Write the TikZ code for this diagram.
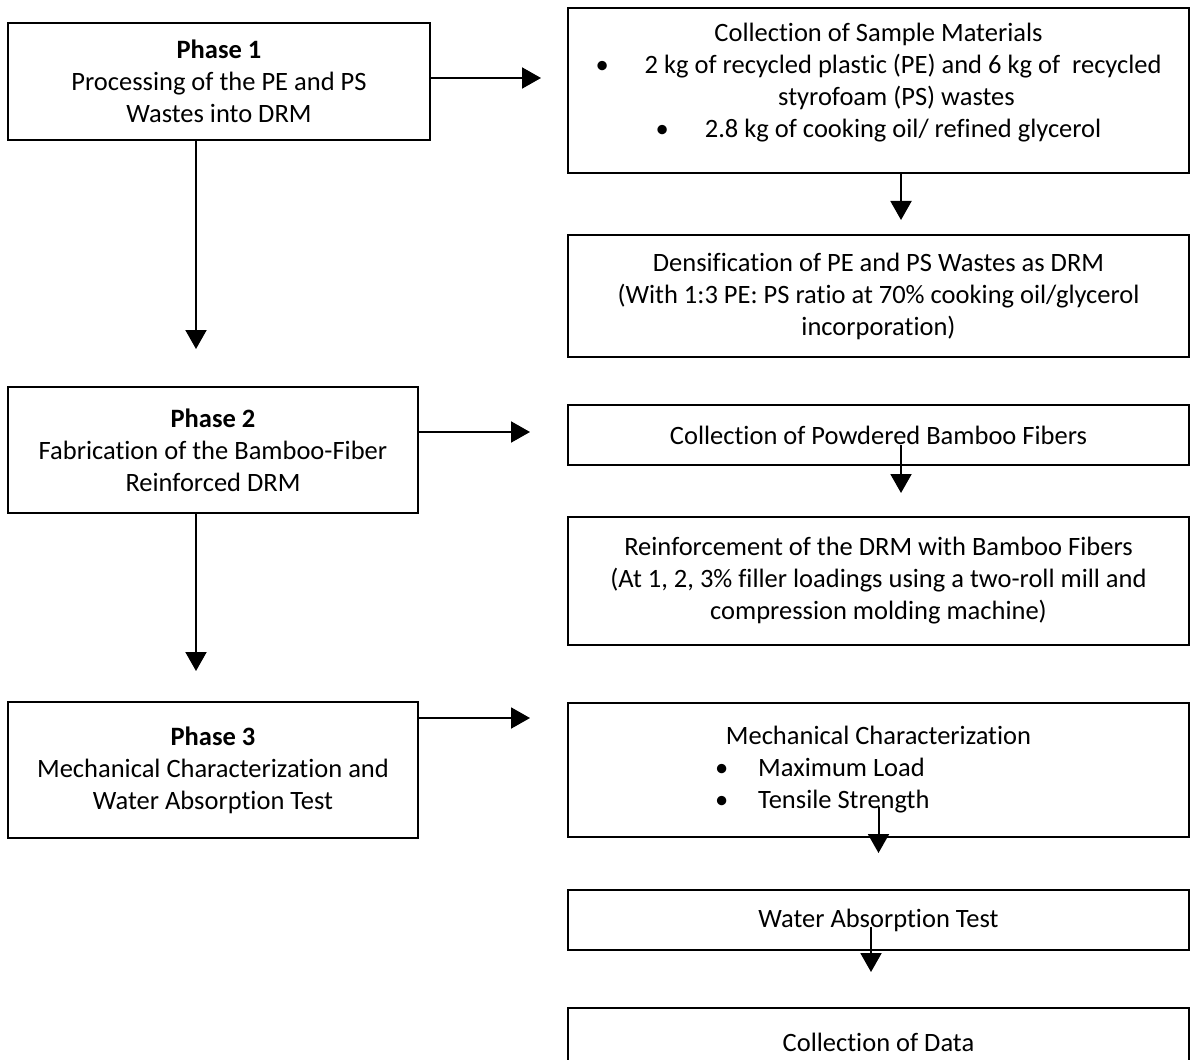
\documentclass[tikz,border=0pt]{standalone}
\usepackage{fontspec}
\setmainfont{Carlito}[Ligatures=NoCommon]
\usepackage{tikz}
\usetikzlibrary{arrows.meta,positioning}

\begin{document}
\begin{tikzpicture}[
  x=0.5pt, y=-0.5pt,
  font=\fontsize{13.25pt}{16pt}\selectfont,
  phase/.style={draw, line width=1pt, align=center, inner sep=0pt, minimum width=205pt},
  task/.style={draw, line width=1pt, align=center, inner sep=0pt, minimum width=310.5pt},
  arrow/.style={-{Triangle[length=9.5pt, width=10.5pt]}, line width=1pt}
]
\useasboundingbox (0,0) rectangle (1192,1059);
\clip (0,0) rectangle (1192,1059);

% left column
\node[phase, minimum width=211pt, minimum height=58.5pt] (ph1) at (219, 81.5) {\textbf{Phase 1}\\Processing of the PE and PS\\Wastes into DRM};
\node[phase, minimum height=63pt] (ph2) at (213, 450) {\textbf{Phase 2}\\Fabrication of the Bamboo-Fiber\\Reinforced DRM};
\node[phase, minimum height=68pt] (ph3) at (213, 770) {\textbf{Phase 3}\\Mechanical Characterization and\\Water Absorption Test};

% right column
\node[task, minimum height=82.5pt] (coll) at (878.5, 90.5) {Collection of Sample Materials\\\textbullet\hspace{18pt}2 kg of recycled plastic (PE) and 6 kg of\ \ recycled\\\hspace*{18pt}styrofoam (PS) wastes\\\textbullet\hspace{18pt}2.8 kg of cooking oil/ refined glycerol\\[-6pt]\mbox{}};
\node[task, minimum height=61pt] (dens) at (878.5, 296) {Densification of PE and PS Wastes as DRM\\(With 1:3 PE: PS ratio at 70\% cooking oil/glycerol\\incorporation)};
\node[task, minimum height=30pt] (bamboo) at (878.5, 435) {Collection of Powdered Bamboo Fibers};
\node[task, minimum height=64pt] (reinf) at (878.5, 581) {Reinforcement of the DRM with Bamboo Fibers\\(At 1, 2, 3\% filler loadings using a two-roll mill and\\compression molding machine)};
\node[task, minimum height=67pt] (mech) at (878.5, 770) {Mechanical Characterization\\\makebox[163.5pt][l]{\textbullet\hspace{15pt}Maximum Load}\\\makebox[163.5pt][l]{\textbullet\hspace{15pt}Tensile Strength}};
\node[task, minimum height=30pt] (water) at (878.5, 920) {Water Absorption Test};
\node[task, minimum height=34pt] (data) at (878.5, 1042) {Collection of Data};

% arrow tips
\coordinate (t1) at (541, 78);
\coordinate (t2) at (530, 432);
\coordinate (t3) at (530, 718);
\coordinate (t4) at (196, 349);
\coordinate (t5) at (196, 671);
\coordinate (t6) at (901, 220);
\coordinate (t7) at (901, 493);
\coordinate (t8) at (878.5, 853);
\coordinate (t9) at (871, 972);

\draw[arrow] (ph1.east |- t1) -- (t1);
\draw[arrow] (ph2.east |- t2) -- (t2);
\draw[arrow] (ph3.east |- t3) -- (t3);
\draw[arrow] (ph1.south -| t4) -- (t4);
\draw[arrow] (ph2.south -| t5) -- (t5);

\draw[arrow] (coll.south -| t6) -- (t6);
\draw[arrow] ([xshift=11.25pt, yshift=-5pt]bamboo.center) -- (t7);
\draw[arrow] ([yshift=-18.5pt]mech.center) -- (t8);
\draw[arrow] ([xshift=-3.75pt, yshift=-3.5pt]water.center) -- (t9);
\end{tikzpicture}
\end{document}
